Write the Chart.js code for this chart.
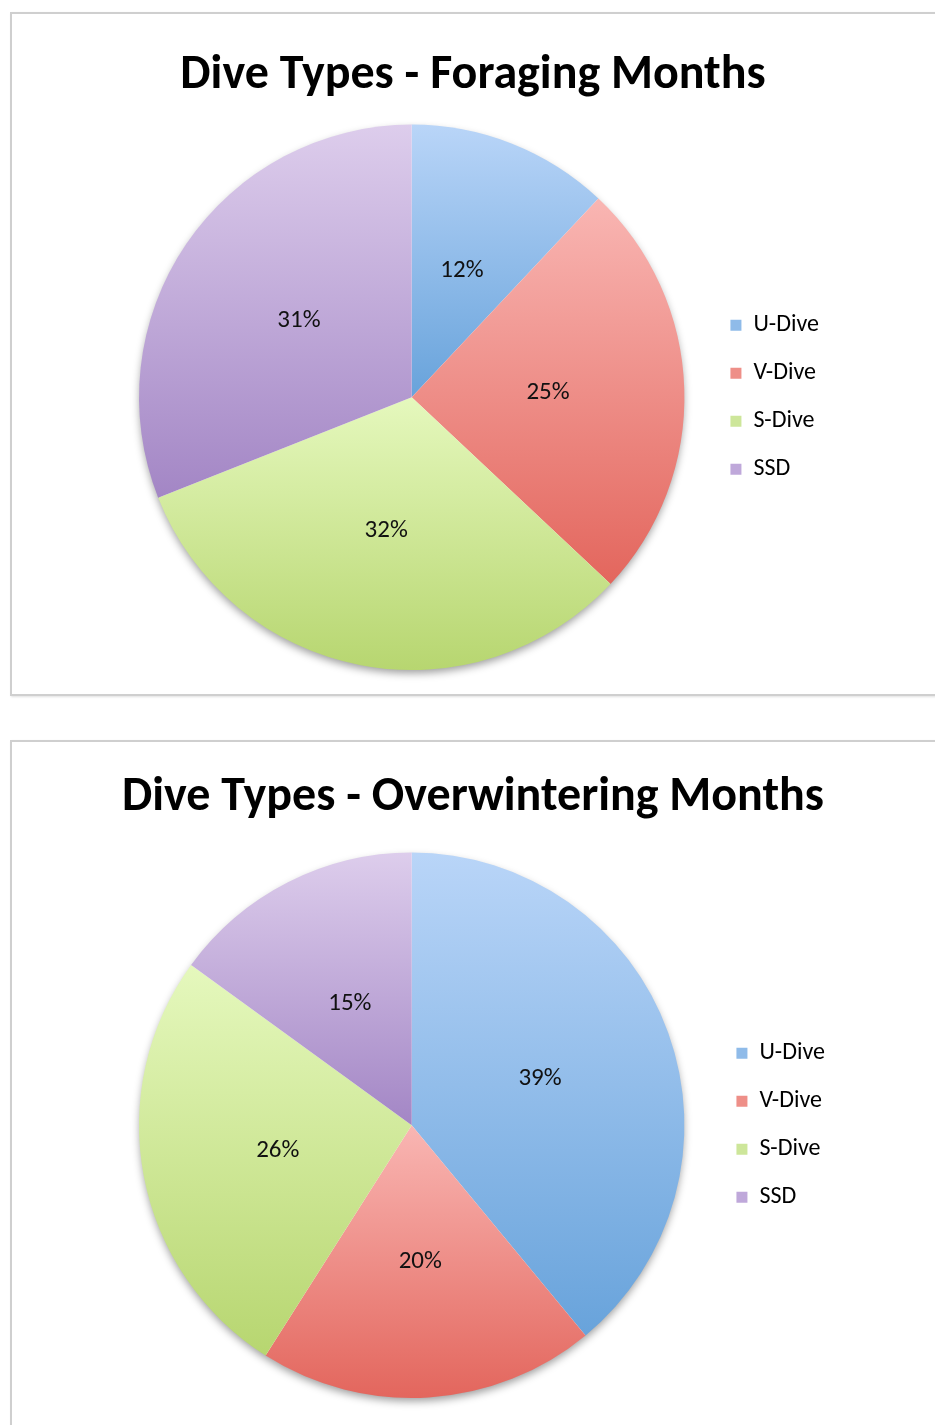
<!DOCTYPE html>
<html>
<head>
<meta charset="utf-8">
<script src="https://cdn.jsdelivr.net/npm/chart.js@4.4.1/dist/chart.umd.min.js"></script>
<style>
  html, body { margin: 0; padding: 0; background: #fff; overflow: hidden; }
  .box {
    position: absolute; left: 10px; width: 1000px;
    border: 2px solid #cfcfcf; box-shadow: 1px 1px 2px rgba(0,0,0,0.12);
    background: #fff;
  }
  #box1 { top: 12px; height: 680px; }
  #box2 { top: 740px; height: 720px; }
  canvas { position: absolute; left: 0; top: 0; }
</style>
</head>
<body>
<div class="box" id="box1"><div style="position:relative;width:890px;height:680px"><canvas id="chart1"></canvas></div></div>
<div class="box" id="box2"><div style="position:relative;width:930px;height:683px"><canvas id="chart2"></canvas></div></div>
<script>
const categories = ['U-Dive', 'V-Dive', 'S-Dive', 'SSD'];
const foragingValues = [12, 25, 32, 31];
const overwinteringValues = [39, 20, 26, 15];

// light top / dark bottom of each slice, and a flat colour for the legend squares
const topColors = ['#b9d5f8', '#f9b6b3', '#e5f8bd', '#ddcdec'];
const bottomColors = ['#68a3db', '#e3665d', '#b7d670', '#a386c5'];
const legendColors = ['#8fbbe9', '#ee8f88', '#cde69a', '#bfa8da'];

const FONT = 'Carlito, Calibri, Lato, sans-serif';

function sliceGradient(c) {
  const i = c.dataIndex;
  const chart = c.chart;
  const a = chart.chartArea;
  if (i === undefined || !a) return legendColors[0];
  const vals = c.dataset.data;
  const total = vals.reduce((s, v) => s + v, 0);
  const cx = (a.left + a.right) / 2, cy = (a.top + a.bottom) / 2;
  const r = Math.min(a.right - a.left, a.bottom - a.top) / 2;
  let before = 0;
  for (let k = 0; k < i; k++) before += vals[k];
  const start = -Math.PI / 2 + before / total * 2 * Math.PI;
  const end = start + vals[i] / total * 2 * Math.PI;
  const ys = [cy, cy + r * Math.sin(start), cy + r * Math.sin(end)];
  // does the slice pass over the top or bottom of the circle
  [Math.PI / 2, 3 * Math.PI / 2, -Math.PI / 2].forEach(ang => {
    if (ang > start && ang < end) ys.push(cy + r * Math.sin(ang));
  });
  const y0 = Math.min(...ys), y1 = Math.max(...ys);
  const g = chart.ctx.createLinearGradient(0, y0, 0, y1 + 0.01);
  g.addColorStop(0, topColors[i]);
  g.addColorStop(1, bottomColors[i]);
  return g;
}

const pieShadow = {
  id: 'pieShadow',
  beforeDatasetsDraw(chart) {
    const arc = chart.getDatasetMeta(0).data[0];
    if (!arc) return;
    const ctx = chart.ctx;
    ctx.save();
    ctx.shadowColor = 'rgba(0,0,0,0.4)';
    ctx.shadowBlur = 9;
    ctx.shadowOffsetY = 4;
    ctx.fillStyle = '#fff';
    ctx.beginPath();
    ctx.arc(arc.x, arc.y, arc.outerRadius - 1, 0, Math.PI * 2);
    ctx.fill();
    ctx.restore();
  }
};

const pctLabels = {
  id: 'pctLabels',
  afterDatasetsDraw(chart) {
    const ctx = chart.ctx;
    const vals = chart.data.datasets[0].data;
    const total = vals.reduce((s, v) => s + v, 0);
    ctx.save();
    ctx.font = '25px ' + FONT;
    ctx.fillStyle = '#111';
    ctx.textAlign = 'center';
    ctx.textBaseline = 'middle';
    chart.getDatasetMeta(0).data.forEach((arc, i) => {
      const p = arc.tooltipPosition();
      ctx.fillText(Math.round(vals[i] / total * 100) + '%', p.x, p.y);
    });
    ctx.restore();
  }
};

function makeConfig(title, values, titlePad, layoutPad) {
  return {
    type: 'pie',
    data: {
      labels: categories,
      datasets: [{
        data: values,
        backgroundColor: sliceGradient,
        borderWidth: 0
      }]
    },
    options: {
      responsive: true,
      maintainAspectRatio: false,
      animation: false,
      layout: { padding: layoutPad },
      plugins: {
        tooltip: { enabled: false },
        title: {
          display: true,
          text: title,
          color: '#000',
          font: { family: FONT, size: 48, weight: 'bold', lineHeight: 1.2 },
          padding: titlePad
        },
        legend: {
          position: 'right',
          fullSize: false,
          labels: {
            color: '#111',
            font: { family: FONT, size: 24 },
            boxWidth: 11,
            boxHeight: 11,
            padding: 24,
            generateLabels: (chart) => categories.map((name, i) => ({
              text: name,
              fillStyle: legendColors[i],
              strokeStyle: legendColors[i],
              lineWidth: 0,
              index: i
            }))
          }
        }
      }
    },
    plugins: [pieShadow, pctLabels]
  };
}

new Chart(document.getElementById('chart1'),
  makeConfig('Dive Types - Foraging Months', foragingValues,
    { top: 33, bottom: 20 }, { left: 105, right: 73, bottom: 24 }));

new Chart(document.getElementById('chart2'),
  makeConfig('Dive Types - Overwintering Months', overwinteringValues,
    { top: 27, bottom: 26 }, { left: 99, right: 107, bottom: 27 }));
</script>
</body>
</html>
